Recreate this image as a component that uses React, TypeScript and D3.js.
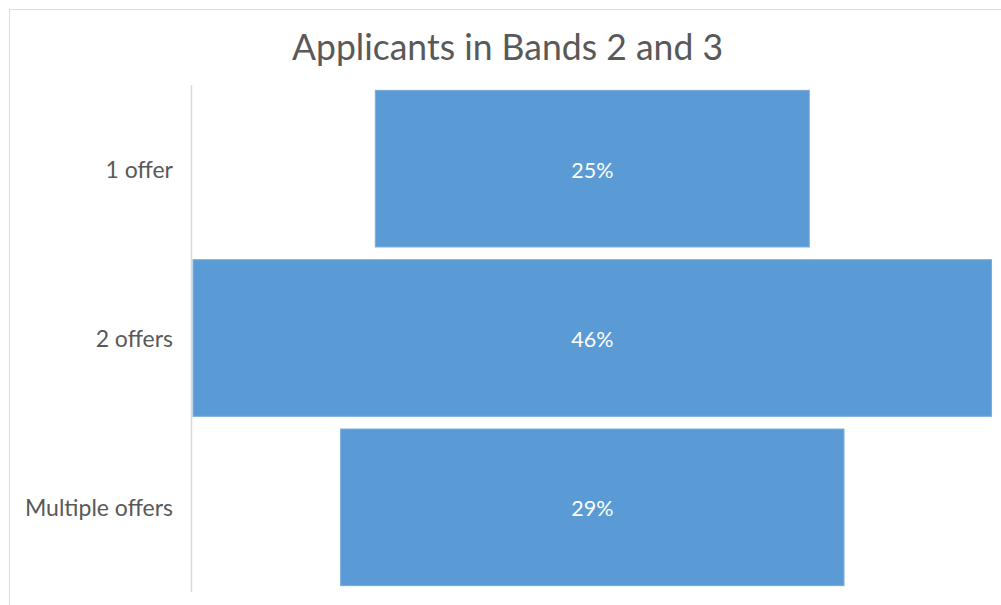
import React from "react";
import * as d3 from "d3";

const categories = ["1 offer", "2 offers", "Multiple offers"];
const values = [0.25, 0.46, 0.29];
const valueLabels = ["25%", "46%", "29%"];
const title = "Applicants in Bands 2 and 3";

export default function App() {
  const W = 1001;
  const H = 605;
  const cx = 592.3;
  const x = d3.scaleLinear().domain([0, 0.46]).range([0, 798.5]);
  const y = d3
    .scaleBand<string>()
    .domain(categories)
    .range([84, 592])
    .paddingInner(0.075)
    .paddingOuter(0.0375);
  const font = "Lato, 'Open Sans', sans-serif";
  return (
    <svg
      width={W}
      height={H}
      style={{ position: "absolute", left: 0, top: 0, background: "#fff" }}
    >
      <rect x={9.5} y={9.5} width={1100} height={700} fill="#fff" stroke="#dcdcdc" strokeWidth={1} />
      <text
        x={507.5}
        y={59.5}
        textAnchor="middle"
        fontFamily={font}
        fontSize={37}
        fill="#595959"
        textLength={431}
        lengthAdjust="spacingAndGlyphs"
      >
        {title}
      </text>
      <line x1={191.5} x2={191.5} y1={85} y2={592} stroke="#d9d9d9" strokeWidth={1.5} />
      {categories.map((c, i) => {
        const w = x(values[i]);
        const by = y(c)!;
        const bh = y.bandwidth();
        return (
          <g key={c}>
            <rect
              x={cx - w / 2}
              y={by}
              width={w}
              height={bh}
              fill="#5b9bd5"
              stroke="#78addf"
              strokeWidth={1}
            />
            <text
              x={cx}
              y={by + bh / 2 + 9}
              textAnchor="middle"
              fontFamily={font}
              fontSize={21.5}
              fill="#ffffff"
            >
              {valueLabels[i]}
            </text>
            <text
              x={173}
              y={by + bh / 2 + 9}
              textAnchor="end"
              fontFamily={font}
              fontSize={23}
              fill="#595959"
            >
              {c}
            </text>
          </g>
        );
      })}
    </svg>
  );
}
